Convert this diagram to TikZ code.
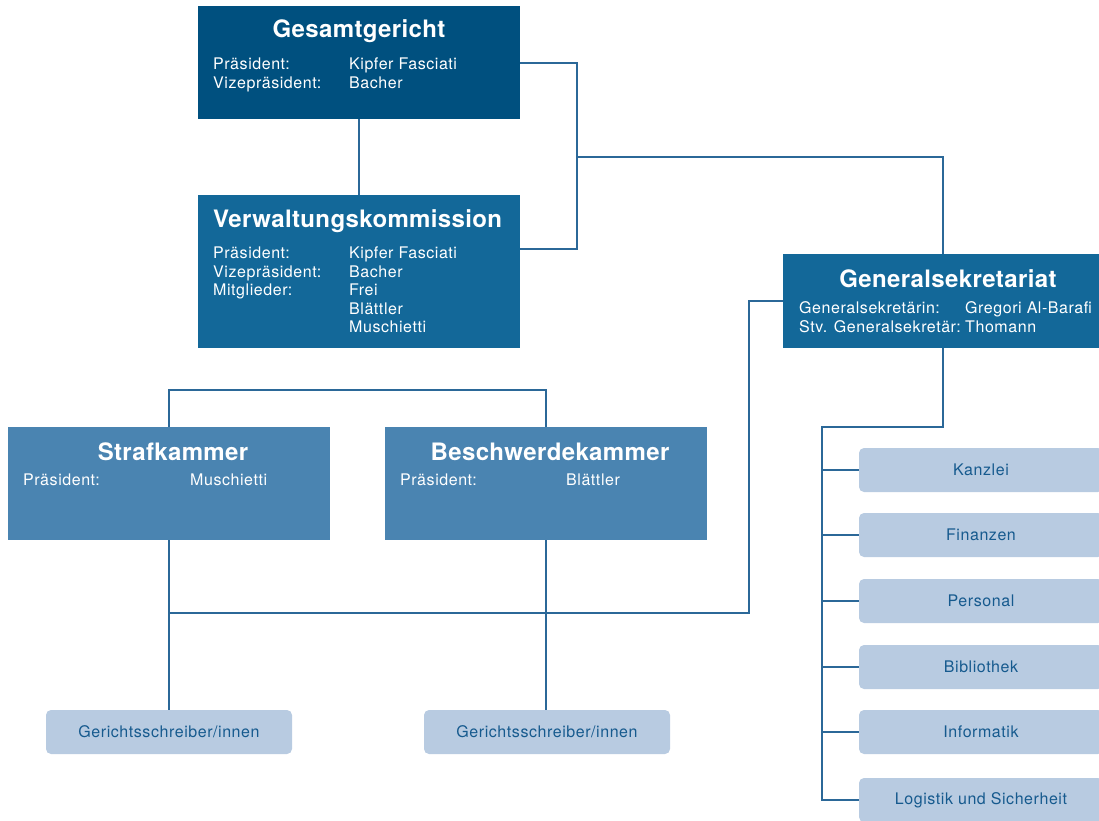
\documentclass[tikz,border=0pt]{standalone}
\usepackage{fontspec}
\setmainfont{TeX Gyre Heros}[LetterSpace=3.5]
\newfontfamily\titlefont{TeX Gyre Heros}[LetterSpace=1.5]
\definecolor{cdark}{HTML}{00507F}
\definecolor{cmid}{HTML}{136899}
\definecolor{clmid}{HTML}{4A84B1}
\definecolor{clight}{HTML}{B8CBE1}
\definecolor{cline}{HTML}{2B6898}
\definecolor{ctxt}{HTML}{165A8E}
\begin{document}
\begin{tikzpicture}[x=1pt,y=-1pt,
  bigbox/.style={inner sep=0pt,outer sep=0pt,anchor=north west,minimum width=322pt},
  smallbox/.style={inner sep=0pt,outer sep=0pt,fill=clight,rounded corners=5pt,minimum height=44pt,
     font=\fontsize{16}{18}\selectfont,text=ctxt},
  title/.style={inner sep=0pt,anchor=base,text=white,font=\titlefont\fontsize{24}{27}\selectfont\bfseries},
  rows/.style={inner sep=0pt,anchor=base west,text=white,font=\fontsize{16}{18.6}\selectfont},
  conn/.style={draw=cline,line width=1.3pt}]
\useasboundingbox (0,0) rectangle (1099,820);

% main boxes
\node[bigbox,fill=cdark,minimum height=113pt] (gg) at (198,6) {};
\node[bigbox,fill=cmid,minimum height=153pt] (vk) at (198,195) {};
\node[bigbox,fill=cmid,minimum width=320pt,minimum height=94pt] (gs) at (783,254) {};
\node[bigbox,fill=clmid,minimum height=113pt] (sk) at (8,427) {};
\node[bigbox,fill=clmid,minimum height=113pt] (bk) at (385,427) {};

% small boxes
\node[smallbox,minimum width=246pt] (gs1) at (169,732) {Gerichtsschreiber/innen};
\node[smallbox,minimum width=246pt] (gs2) at (547,732) {Gerichtsschreiber/innen};
\node[smallbox,minimum width=244pt] (ka) at (981,470) {Kanzlei};
\node[smallbox,minimum width=244pt] (fi) at (981,535) {Finanzen};
\node[smallbox,minimum width=244pt] (pe) at (981,601) {Personal};
\node[smallbox,minimum width=244pt] (bi) at (981,667) {Bibliothek};
\node[smallbox,minimum width=244pt] (in) at (981,732) {Informatik};
\node[smallbox,minimum width=244pt] (lo) at (981,800) {Logistik und Sicherheit};

% texts
\node[title] (ggt) at (359,37.5) {Gesamtgericht};
\node[rows] (ggr) at (213,69.5) {\begin{tabular}[t]{@{}p{136pt}@{}l@{}}Präsident: & Kipfer Fasciati\\ Vizepräsident: & Bacher\end{tabular}};
\node[title,anchor=base west] (vkt) at (213,227) {Verwaltungskommission};
\node[rows] (vkr) at (213,258.5) {\begin{tabular}[t]{@{}p{136pt}@{}l@{}}Präsident: & Kipfer Fasciati\\ Vizepräsident: & Bacher\\ Mitglieder: & Frei\\ & Blättler\\ & Muschietti\end{tabular}};
\node[title] (gst) at (948,287) {Generalsekretariat};
\node[rows] (gsr) at (799,313.5) {\begin{tabular}[t]{@{}p{166pt}@{}l@{}}Generalsekretärin: & Gregori Al-Barafi\\ Stv. Generalsekretär: & Thomann\end{tabular}};
\node[title] (skt) at (173,460) {Strafkammer};
\node[rows] (skr) at (23,485.5) {\begin{tabular}[t]{@{}p{167pt}@{}l@{}}Präsident: & Muschietti\end{tabular}};
\node[title] (bkt) at (550,460) {Beschwerdekammer};
\node[rows] (bkr) at (400,485.5) {\begin{tabular}[t]{@{}p{166pt}@{}l@{}}Präsident: & Blättler\end{tabular}};

% junction coordinates
\coordinate (j1) at (577,63);
\coordinate (j2) at (577,249);
\coordinate (j3) at (577,157);
\coordinate (j5) at (749,613);
\coordinate (j7) at (350,390);
\coordinate (j8) at (822,427);

% connectors
\draw[conn] (gg.south) -- (vk.north);
\draw[conn] (gg.east|-j1) -- (j1) -- (j2) -- (vk.east|-j2);
\draw[conn] (j3) -| (gs.north);
\draw[conn] (gs.west) -| (j5) -- (sk.south|-j5);
\draw[conn] (sk.south) -- (gs1.north);
\draw[conn] (bk.south) -- (bk.south|-gs2.north);
\draw[conn] (sk.north) |- (j7) -| (bk.north);
\draw[conn] (gs.south) |- (j8) |- (lo.west);
\foreach \n in {ka,fi,pe,bi,in} \draw[conn] (j8|-\n.west) -- (\n.west);
\end{tikzpicture}
\end{document}
